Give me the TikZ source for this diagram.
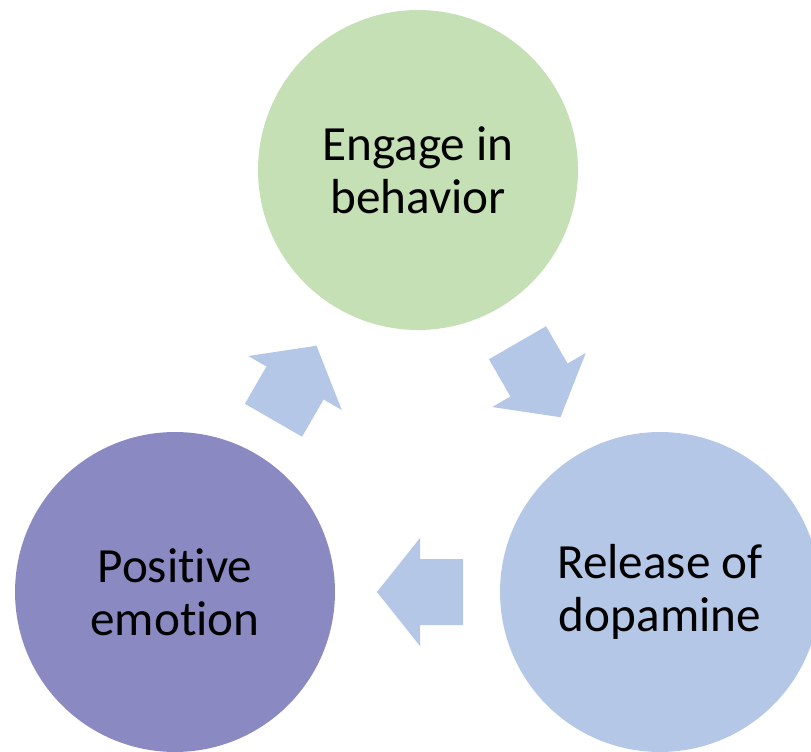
\documentclass[tikz,border=0pt]{standalone}
\usepackage{fontspec}
\setmainfont{Carlito}[Ligatures=NoCommon]
\definecolor{stepgreen}{HTML}{C5E0B4}
\definecolor{steppurple}{HTML}{8A89C2}
\definecolor{stepblue}{HTML}{B4C7E7}
\tikzset{
    stage/.style={circle, minimum size=6.4cm, inner sep=0pt, align=center,
        font=\fontsize{28}{30}\selectfont},
    blockarrow/.style={fill=stepblue}
}
\begin{document}
\begin{tikzpicture}[x=0.02cm,y=0.02cm]
    \useasboundingbox (0,0) rectangle (811,751);
    \clip (0,0) rectangle (811,751);
    % the three stages of the loop
    \node[stage, fill=stepgreen] (behavior) at (418,581) {Engage in\\behavior};
    \node[stage, fill=stepblue] (dopamine) at (660,159) {Release of\\dopamine};
    \node[stage, fill=steppurple] (emotion) at (175,159) {Positive\\emotion};
    % block arrows between them (centre at base of head, pointing along +x)
    \foreach \cx/\cy/\ang in {539/371/-60, 420/159/180, 295/368/60} {
    \fill[blockarrow, shift={(\cx,\cy)}, rotate=\ang]
        (43,0) -- (0,54) -- (0,33) -- (-43,33) -- (-43,-33) -- (0,-33) -- (0,-54) -- cycle;
    }
\end{tikzpicture}
\end{document}
